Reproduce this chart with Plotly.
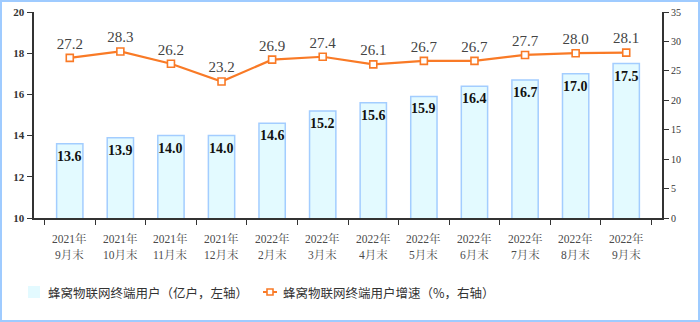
import plotly.graph_objects as go

years = ["2021年", "2021年", "2021年", "2021年", "2022年", "2022年",
         "2022年", "2022年", "2022年", "2022年", "2022年", "2022年"]
months = ["9月末", "10月末", "11月末", "12月末", "2月末", "3月末",
          "4月末", "5月末", "6月末", "7月末", "8月末", "9月末"]
categories = [y + m for y, m in zip(years, months)]
users = [13.6, 13.9, 14.0, 14.0, 14.6, 15.2, 15.6, 15.9, 16.4, 16.7, 17.0, 17.5]
growth = [27.2, 28.3, 26.2, 23.2, 26.9, 27.4, 26.1, 26.7, 26.7, 27.7, 28.0, 28.1]
left_ticks = [10, 12, 14, 16, 18, 20]
right_ticks = [0, 5, 10, 15, 20, 25, 30, 35]
legend_bar = "蜂窝物联网终端用户（亿户，左轴）"
legend_line = "蜂窝物联网终端用户增速（%，右轴）"

serif = "Liberation Serif, Noto Serif CJK SC, Noto Sans CJK SC, serif"
cjk = "Noto Sans CJK SC, sans-serif"
ORANGE = "#F97A26"
BAR_FILL = "#E3FAFF"
BAR_LINE = "#A3CDFF"

W, H = 700, 322
l, r, t, b = 34, 38, 12, 104
pw, ph = W - l - r, H - t - b


def px(xp):
    return (xp - l) / pw


def py(yp):
    return (H - b - yp) / ph


fig = go.Figure()
fig.add_trace(go.Bar(
    x=categories, y=users, name=legend_bar,
    marker=dict(color=BAR_FILL, line=dict(color=BAR_LINE, width=1.5)),
    yaxis="y", showlegend=False, hoverinfo="skip",
))
fig.add_trace(go.Scatter(
    x=categories, y=growth, name=legend_line,
    mode="lines+markers+text",
    line=dict(color=ORANGE, width=2.2),
    marker=dict(symbol="square", size=7, color="white", line=dict(color=ORANGE, width=1.6)),
    text=[f"{v:.1f}" for v in growth], textposition="top center",
    textfont=dict(family=serif, size=15, color="#444444"),
    yaxis="y2", showlegend=False, cliponaxis=False, hoverinfo="skip",
))

annotations = []
for c, v in zip(categories, users):
    annotations.append(dict(x=c, y=v, xref="x", yref="y", text=f"{v:.1f}",
                            showarrow=False, yanchor="top", yshift=-3,
                            font=dict(family=serif, size=14, color="#111111", weight="bold")))
for c, yy, mm in zip(categories, years, months):
    annotations.append(dict(x=c, y=py(238), xref="x", yref="paper", text=yy,
                            showarrow=False, yanchor="middle",
                            font=dict(family=serif, size=11.5, color="#4a4a4a")))
    annotations.append(dict(x=c, y=py(255), xref="x", yref="paper", text=mm,
                            showarrow=False, yanchor="middle",
                            font=dict(family=serif, size=11.5, color="#4a4a4a")))
annotations.append(dict(x=px(46), y=py(292), xref="paper", yref="paper", text=legend_bar,
                        showarrow=False, xanchor="left", yanchor="middle",
                        font=dict(family=cjk, size=12.5, color="#333333")))
annotations.append(dict(x=px(281), y=py(292), xref="paper", yref="paper", text=legend_line,
                        showarrow=False, xanchor="left", yanchor="middle",
                        font=dict(family=cjk, size=12.5, color="#333333")))

shapes = [
    dict(type="rect", xref="paper", yref="paper",
         x0=px(1), x1=px(W - 1), y0=py(H - 1), y1=py(1),
         line=dict(color="#9FCBFF", width=2), fillcolor="rgba(0,0,0,0)", layer="below"),
    dict(type="rect", xref="paper", yref="paper",
         x0=px(28), x1=px(40), y0=py(298), y1=py(286),
         line=dict(width=0), fillcolor=BAR_FILL),
    dict(type="line", xref="paper", yref="paper",
         x0=px(263), x1=px(277), y0=py(292), y1=py(292),
         line=dict(color=ORANGE, width=2)),
    dict(type="rect", xref="paper", yref="paper",
         x0=px(267), x1=px(273), y0=py(295), y1=py(289),
         line=dict(color=ORANGE, width=1.6), fillcolor="white"),
]

fig.update_layout(
    width=W, height=H,
    margin=dict(l=l, r=r, t=t, b=b, autoexpand=False),
    paper_bgcolor="white", plot_bgcolor="white",
    bargap=0.48,
    showlegend=False,
    hovermode=False,
    xaxis=dict(type="category", tickson="boundaries", ticks="outside", ticklen=5,
               tickcolor="#333333", showline=True, linecolor="#333333", linewidth=2,
               showticklabels=False, showgrid=False, automargin=False),
    yaxis=dict(range=[10, 20], tickvals=left_ticks, ticks="outside", ticklen=5,
               tickcolor="#333333", showline=True, linecolor="#333333", linewidth=2.5,
               tickfont=dict(family=serif, size=11, color="#333333", weight="bold"),
               showgrid=False, zeroline=False, automargin=False),
    yaxis2=dict(range=[0, 35], tickvals=right_ticks, overlaying="y", side="right",
                ticks="outside", ticklen=5, tickcolor="#333333", showline=True,
                linecolor="#333333", linewidth=2,
                tickfont=dict(family=serif, size=10, color="#333333"),
                showgrid=False, zeroline=False, automargin=False),
    annotations=annotations,
    shapes=shapes,
)

fig.write_html("out.html",
               config={"displayModeBar": False, "staticPlot": True},
               post_script="document.body.style.margin='0';document.body.style.overflow='hidden';")
